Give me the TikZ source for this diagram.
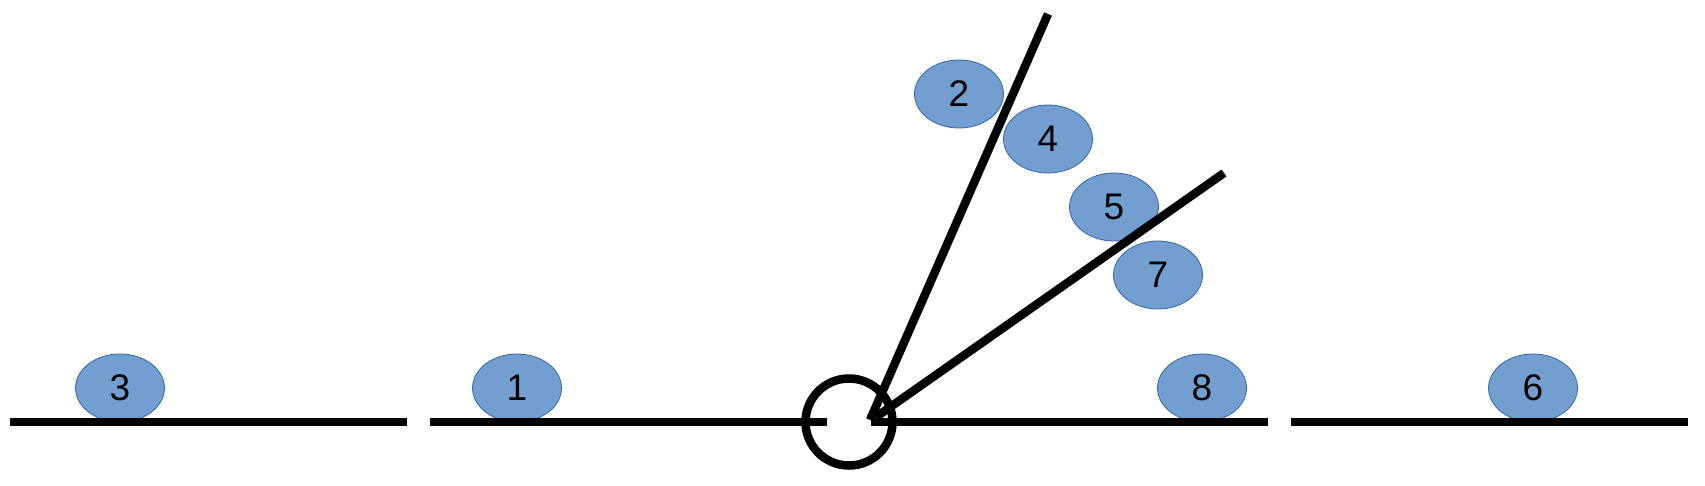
\documentclass[tikz,border=0pt]{standalone}
\usepackage{fontspec}
\setmainfont{Liberation Sans}
\usetikzlibrary{shapes.geometric}
\definecolor{blobfill}{RGB}{114,159,207}
\definecolor{blobedge}{RGB}{52,101,164}
\begin{document}
\begin{tikzpicture}[x=1pt,y=-1pt,
  blob/.style={ellipse,draw=blobedge,line width=0.8pt,fill=blobfill,minimum width=89pt,minimum height=68pt,inner sep=0pt,font=\fontsize{37}{37}\selectfont},
  bar/.style={line width=8.5pt,line cap=butt}]
\useasboundingbox (0,0) rectangle (1705,485);
% ellipses
\node[blob] (n3) at (120,388) {3};
\node[blob] (n1) at (517,388) {1};
\node[blob] (n8) at (1202,388) {8};
\node[blob] (n6) at (1533,388) {6};
\node[blob] (n2) at (959,94) {2};
\node[blob] (n4) at (1048,139) {4};
\node[blob] (n5) at (1114,207) {5};
\node[blob] (n7) at (1158,275) {7};
% coordinates
\coordinate (a1) at (10,422);
\coordinate (a2) at (407,422);
\coordinate (b1) at (430,422);
\coordinate (b2) at (827,422);
\coordinate (c1) at (871,422);
\coordinate (c2) at (1268,422);
\coordinate (d1) at (1291,422);
\coordinate (d2) at (1688,422);
\coordinate (apexA) at (870,420);
\coordinate (topA) at (1048,14);
\coordinate (apexB) at (876,417);
\coordinate (topB) at (1224,173);
\coordinate (hub) at (849,422);
% lines
\draw[bar] (a1) -- (a2);
\draw[bar] (b1) -- (b2);
\draw[bar] (c1) -- (c2);
\draw[bar] (d1) -- (d2);
\draw[line width=8.5pt] (hub) circle (43.5);
\draw[bar] (apexA) -- (topA);
\draw[bar] (apexB) -- (topB);
\end{tikzpicture}
\end{document}
